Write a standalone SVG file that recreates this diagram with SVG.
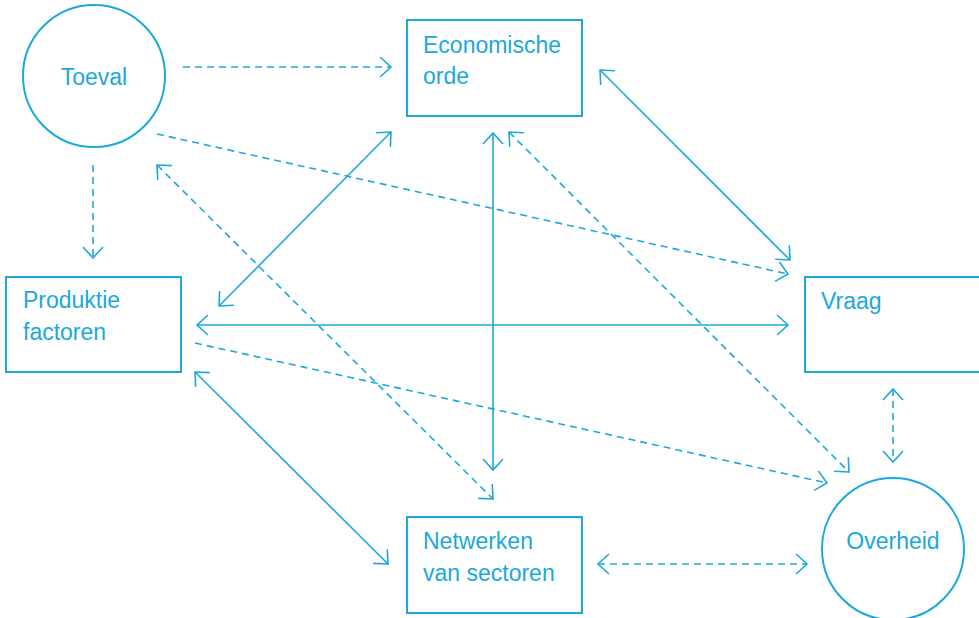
<svg xmlns="http://www.w3.org/2000/svg" width="979" height="618" viewBox="0 0 979 618">
  <style>
    .box { fill: #ffffff; stroke: #1ba8dc; stroke-width: 2; }
    .lbl { fill: #1ba8dc; font-family: "Liberation Sans", Arial, sans-serif; font-size: 23px; }
    .ln { fill: none; stroke: #1ba8dc; stroke-width: 1.6; }
    .dash { stroke-dasharray: 7 5; }
  </style>
  <defs>
    <marker id="arr" viewBox="-13 -12 15 24" refX="0" refY="0" markerWidth="15" markerHeight="24" markerUnits="userSpaceOnUse" orient="auto-start-reverse">
      <path d="M-11,-10 L0,0 L-11,10" fill="none" stroke="#1ba8dc" stroke-width="1.6"/>
    </marker>
  </defs>

  <rect width="979" height="618" fill="#ffffff"/>

  <g id="connectors">
    <!-- dashed: Toeval to others -->
    <line class="ln dash" x1="183" y1="67" x2="391" y2="67" marker-end="url(#arr)"/>
    <line class="ln dash" x1="157" y1="134" x2="788" y2="274" marker-end="url(#arr)"/>
    <line class="ln dash" x1="93" y1="165" x2="93" y2="258" marker-end="url(#arr)"/>
    <line class="ln dash" x1="157" y1="165" x2="493" y2="499" marker-start="url(#arr)" marker-end="url(#arr)"/>
    <!-- solid two-way links -->
    <line class="ln" x1="391" y1="132" x2="219" y2="306" marker-start="url(#arr)" marker-end="url(#arr)"/>
    <line class="ln" x1="600" y1="70" x2="790" y2="260" marker-start="url(#arr)" marker-end="url(#arr)"/>
    <line class="ln" x1="493" y1="133" x2="493" y2="470" marker-start="url(#arr)" marker-end="url(#arr)"/>
    <line class="ln" x1="197" y1="325" x2="788" y2="325" marker-start="url(#arr)" marker-end="url(#arr)"/>
    <line class="ln" x1="195" y1="372" x2="388" y2="564" marker-start="url(#arr)" marker-end="url(#arr)"/>
    <!-- dashed links to Overheid -->
    <line class="ln dash" x1="509" y1="132" x2="849" y2="472" marker-start="url(#arr)" marker-end="url(#arr)"/>
    <line class="ln dash" x1="195" y1="343" x2="827" y2="483" marker-end="url(#arr)"/>
    <line class="ln dash" x1="893" y1="389" x2="893" y2="462" marker-start="url(#arr)" marker-end="url(#arr)"/>
    <line class="ln dash" x1="598" y1="564" x2="807" y2="564" marker-start="url(#arr)" marker-end="url(#arr)"/>
  </g>

  <g id="toeval">
    <circle class="box" cx="94" cy="76" r="71"/>
    <text class="lbl" x="94" y="85" text-anchor="middle">Toeval</text>
  </g>

  <g id="economische-orde">
    <rect class="box" x="407" y="20" width="175" height="96"/>
    <text class="lbl" x="423" y="53">Economische</text>
    <text class="lbl" x="423" y="84">orde</text>
  </g>

  <g id="produktie-factoren">
    <rect class="box" x="6" y="277" width="175" height="95"/>
    <text class="lbl" x="23" y="308">Produktie</text>
    <text class="lbl" x="23" y="340">factoren</text>
  </g>

  <g id="vraag">
    <rect class="box" x="805" y="277" width="180" height="95"/>
    <text class="lbl" x="821" y="309">Vraag</text>
  </g>

  <g id="netwerken-van-sectoren">
    <rect class="box" x="407" y="517" width="175" height="96"/>
    <text class="lbl" x="423" y="549">Netwerken</text>
    <text class="lbl" x="423" y="581">van sectoren</text>
  </g>

  <g id="overheid">
    <circle class="box" cx="893" cy="549" r="71"/>
    <text class="lbl" x="893" y="549" text-anchor="middle">Overheid</text>
  </g>
</svg>
